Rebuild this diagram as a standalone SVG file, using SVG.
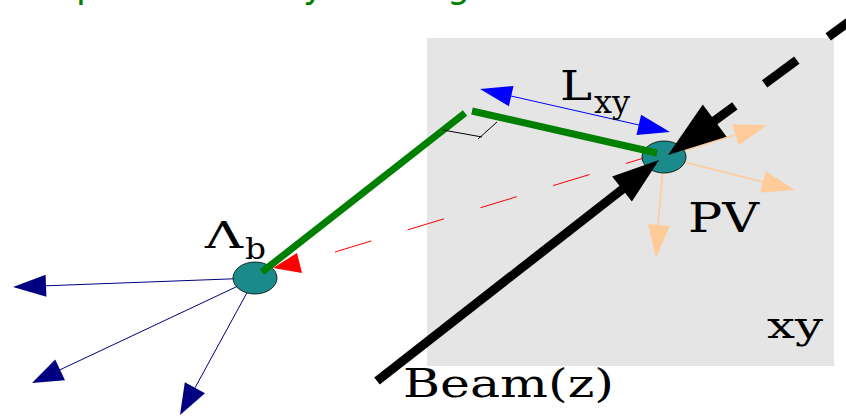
<svg xmlns="http://www.w3.org/2000/svg" width="846" height="416" viewBox="0 0 846 416">
  <style>
    .serif { font-family: "DejaVu Serif", "Liberation Serif", serif; fill: #000; }
    .vtx { fill: #1a8a8a; stroke: #000; stroke-width: 0.8; }
    .navy { stroke: #000080; stroke-width: 1; fill: none; }
    .navyh { fill: #000080; }
    .peach { stroke: #ffcc99; stroke-width: 1.5; fill: none; }
    .peachh { fill: #ffcc99; }
    .trk { stroke: #008000; stroke-width: 7; fill: none; }
    .beam { stroke: #000; stroke-width: 9; fill: none; }
  </style>
  <rect width="846" height="416" fill="#fff"/>

  <g id="title">
    <text font-family="'DejaVu Sans', sans-serif" font-size="36" fill="#008000" y="-2"><tspan x="76">p</tspan><tspan x="303">y</tspan><tspan x="447">g</tspan></text>
  </g>

  <g id="xy-plane">
    <rect x="427" y="38" width="407" height="328" fill="#e5e5e5"/>
    <text class="serif" x="767" y="338" font-size="38" textLength="56" lengthAdjust="spacingAndGlyphs">xy</text>
  </g>

  <g id="connectors">
    <!-- red dashed flight direction -->
    <line x1="335" y1="252" x2="657" y2="154" stroke="#ff0000" stroke-width="1" stroke-dasharray="38 38"/>
    <!-- navy daughter tracks from Lambda_b -->
    <line class="navy" x1="255" y1="278" x2="46" y2="285.8"/>
    <polygon class="navyh" points="13,287 46.4,296.8 45.6,274.8"/>
    <line class="navy" x1="255" y1="278" x2="60" y2="369.8"/>
    <polygon class="navyh" points="32,383 65,380.2 55.2,359.4"/>
    <line class="navy" x1="255" y1="278" x2="195" y2="387.8"/>
    <polygon class="navyh" points="180,415 205,393.3 184.8,382.3"/>
    <!-- peach tracks from PV -->
    <line class="peach" x1="664" y1="157" x2="735.5" y2="134.8"/>
    <polygon class="peachh" points="767,125 738.8,145.3 732.2,124.3"/>
    <line class="peach" x1="664" y1="157" x2="763" y2="181.9"/>
    <polygon class="peachh" points="795,190 760.3,192.6 765.7,171.2"/>
    <line class="peach" x1="664" y1="157" x2="658" y2="225.1"/>
    <polygon class="peachh" points="656,258 669.9,226.1 647.9,224.1"/>
  </g>

  <g id="lambda-b-vertex">
    <ellipse class="vtx" cx="255" cy="278" rx="22" ry="16"/>
  </g>
  <g id="pv-vertex">
    <ellipse class="vtx" cx="664" cy="157" rx="22" ry="16"/>
  </g>

  <g id="tracks">
    <line class="trk" x1="262" y1="272" x2="465" y2="113"/>
    <line class="trk" x1="472" y1="111" x2="657" y2="153"/>
    <!-- red arrowhead -->
    <polygon points="273,268 297,253 302,273" fill="#ff0000"/>
    <!-- right-angle mark -->
    <line x1="443" y1="130" x2="482" y2="137" stroke="#000" stroke-width="1"/>
    <line x1="478" y1="139" x2="497" y2="122" stroke="#000" stroke-width="1"/>
    <!-- Lxy double arrow -->
    <line x1="511" y1="96" x2="639" y2="125" stroke="#0000ff" stroke-width="1"/>
    <polygon points="480,89 513.5,85.9 508.9,106.3" fill="#0000ff"/>
    <polygon points="670,132 641.1,114.7 636.5,135.1" fill="#0000ff"/>
    <!-- beam arrows -->
    <line class="beam" x1="377" y1="381" x2="624" y2="188"/>
    <polygon points="659,160 631.9,201.6 612.1,176.4" fill="#000"/>
    <line class="beam" x1="712.3" y1="122.4" x2="877" y2="1" stroke-dasharray="28 37 40 39 200"/>
    <polygon points="668,155 726.6,136.7 702.8,104.5" fill="#000"/>
  </g>

  <g id="labels">
    <text class="serif" x="205" y="248" font-size="38" textLength="38" lengthAdjust="spacingAndGlyphs">Λ</text>
    <text class="serif" x="245" y="259" font-size="30" textLength="21" lengthAdjust="spacingAndGlyphs">b</text>
    <text class="serif" x="560" y="100" font-size="41" textLength="32" lengthAdjust="spacingAndGlyphs">L</text>
    <text class="serif" x="594" y="113" font-size="32" textLength="36" lengthAdjust="spacingAndGlyphs">xy</text>
    <text class="serif" x="688" y="232" font-size="41" textLength="71" lengthAdjust="spacingAndGlyphs">PV</text>
    <text class="serif" x="403" y="397" font-size="40" textLength="211" lengthAdjust="spacingAndGlyphs">Beam(z)</text>
  </g>
</svg>
